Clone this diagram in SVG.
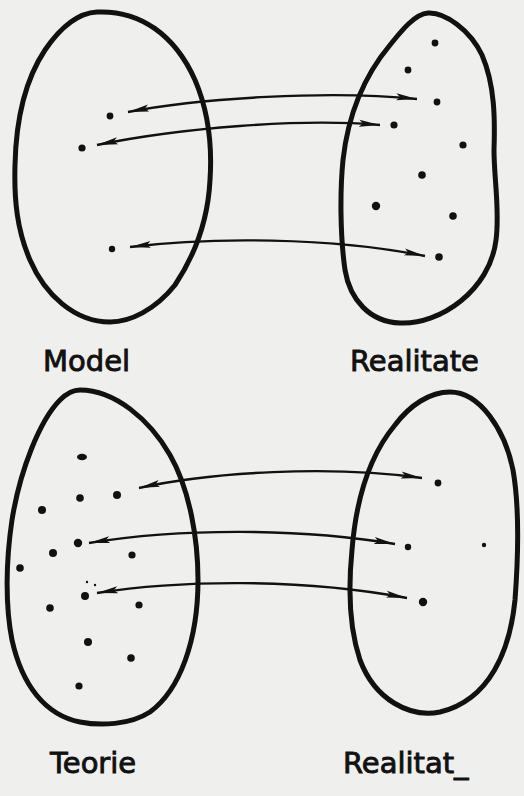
<svg xmlns="http://www.w3.org/2000/svg" width="524" height="796" viewBox="0 0 524 796">
<style>
.blob{fill:none;stroke:#111;stroke-width:5;stroke-linejoin:round}
.arr{fill:none;stroke:#111;stroke-width:2.4;marker-start:url(#ah);marker-end:url(#ah)}
.dot{fill:#111}
.lbl{font-family:"DejaVu Sans",sans-serif;font-size:29px;fill:#111;stroke:#111;stroke-width:0.9}
</style>
<defs>
<marker id="ah" markerUnits="userSpaceOnUse" markerWidth="22" markerHeight="10" refX="21" refY="5" orient="auto-start-reverse">
<path d="M0,1.5 L21,5 L0,8.5 L4,5 Z" fill="#111"/>
</marker>
</defs>
<rect width="524" height="796" fill="#efefed"/>

<g id="model">
<path class="blob" d="M97,12 C140,10 175,35 195,80 C210,115 212,150 210,180 C208,220 195,255 175,285 C155,310 130,322 110,322 C75,322 45,295 30,260 C17,230 14,200 15,165 C16,120 25,80 45,50 C60,28 78,13 97,12 Z"/>
<circle class="dot" cx="110" cy="116" r="3.4"/>
<circle class="dot" cx="82" cy="148" r="3.6"/>
<circle class="dot" cx="112" cy="249" r="3.2"/>
<text class="lbl" x="43" y="371">Model</text>
</g>

<g id="realitate1">
<path class="blob" d="M428,13 C445,12 470,30 482,55 C495,85 495,120 494,150 C494,180 500,210 496,240 C490,290 440,325 400,323 C370,322 350,300 345,270 C340,235 340,190 343,160 C348,115 365,75 390,45 C402,30 415,14 428,13 Z"/>
<circle class="dot" cx="435" cy="43" r="3.4"/>
<circle class="dot" cx="408" cy="70" r="3.4"/>
<circle class="dot" cx="437" cy="102" r="3.4"/>
<circle class="dot" cx="394" cy="125" r="3.6"/>
<circle class="dot" cx="463" cy="145" r="3.6"/>
<circle class="dot" cx="422" cy="175" r="3.8"/>
<circle class="dot" cx="376" cy="206" r="4.2"/>
<circle class="dot" cx="453" cy="216" r="3.8"/>
<circle class="dot" cx="439" cy="257" r="3.8"/>
<text class="lbl" x="350" y="371">Realitate</text>
</g>

<g id="teorie">
<path class="blob" d="M80,390 C115,390 150,420 170,455 C190,490 198,540 198,580 C198,640 180,690 150,712 C130,725 100,726 80,722 C45,715 22,685 12,640 C5,605 6,560 12,520 C20,470 40,420 60,400 C66,394 73,390 80,390 Z"/>
<ellipse class="dot" cx="82" cy="457" rx="5" ry="3.2"/>
<circle class="dot" cx="80" cy="498" r="3.8"/>
<circle class="dot" cx="117" cy="495" r="4"/>
<circle class="dot" cx="42" cy="510" r="4"/>
<circle class="dot" cx="78" cy="543" r="4.2"/>
<circle class="dot" cx="53" cy="553" r="4"/>
<circle class="dot" cx="132" cy="555" r="3.6"/>
<circle class="dot" cx="20" cy="568" r="3.8"/>
<circle class="dot" cx="87" cy="582" r="1.2"/>
<circle class="dot" cx="95" cy="585" r="1.2"/>
<circle class="dot" cx="85" cy="596" r="4"/>
<circle class="dot" cx="50" cy="608" r="3.8"/>
<circle class="dot" cx="139" cy="605" r="3.6"/>
<circle class="dot" cx="88" cy="642" r="4"/>
<circle class="dot" cx="131" cy="658" r="3.8"/>
<circle class="dot" cx="79" cy="686" r="3.6"/>
<text class="lbl" x="50" y="773">Teorie</text>
</g>

<g id="realitate2">
<path class="blob" d="M450,392 C480,392 505,430 513,470 C520,510 518,560 515,600 C510,650 490,700 440,712 C410,718 375,700 360,660 C350,630 348,590 352,550 C356,500 370,455 395,425 C410,405 430,392 450,392 Z"/>
<circle class="dot" cx="438" cy="483" r="3.4"/>
<circle class="dot" cx="408" cy="547" r="3.2"/>
<circle class="dot" cx="484" cy="545" r="2.2"/>
<circle class="dot" cx="423" cy="602" r="4.2"/>
<text class="lbl" x="343" y="773">Realitat_</text>
</g>

<g id="connectors">
<path class="arr" d="M128,112 C200,98 330,90 417,99"/>
<path class="arr" d="M97,145 C180,128 300,118 380,125"/>
<path class="arr" d="M130,247 C210,237 330,237 425,256"/>
<path class="arr" d="M139,488 C210,472 330,465 422,478"/>
<path class="arr" d="M89,543 C180,528 300,528 395,544"/>
<path class="arr" d="M97,593 C180,580 300,578 407,598"/>
</g>
</svg>
